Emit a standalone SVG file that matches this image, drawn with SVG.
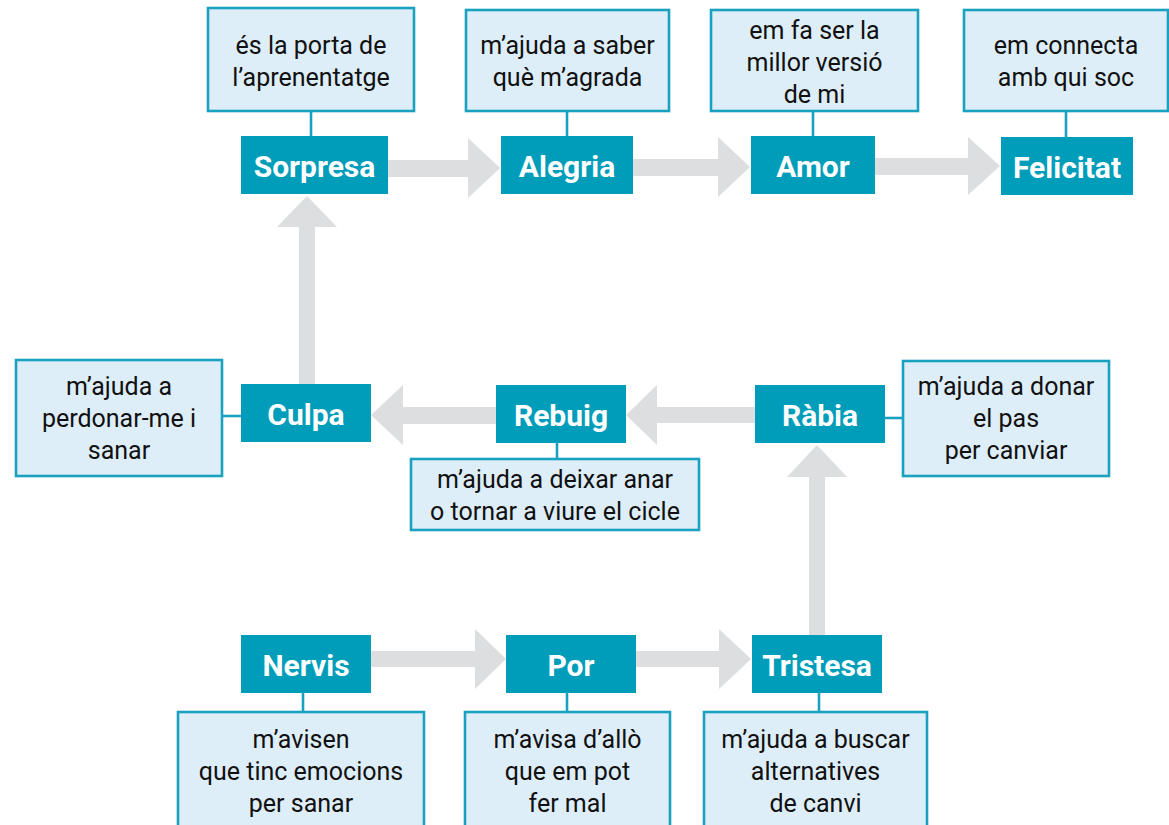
<svg xmlns="http://www.w3.org/2000/svg" width="1169" height="825" viewBox="0 0 1169 825">
<style>
.node rect{fill:#009dba}
.node text{font-family:Roboto,"Liberation Sans",sans-serif;font-weight:bold;font-size:30px;fill:#ffffff;text-anchor:middle}
.desc rect{fill:#deeef9;stroke:#18a2c0;stroke-width:2.6}
.desc text{font-family:Roboto,"Liberation Sans",sans-serif;font-size:25px;fill:#111111;text-anchor:middle}
.link{stroke:#18a2c0;stroke-width:2.6;fill:none}
.arrow{fill:#dcdee0}
</style>
<rect width="1169" height="825" fill="#ffffff"/>
<g id="connectors">
  <polygon class="arrow" points="388,160 468,160 468,138 500,168 468,198 468,177 388,177"/>
  <polygon class="arrow" points="633,159 718,159 718,137 750,167 718,197 718,176 633,176"/>
  <polygon class="arrow" points="875,158 968,158 968,137 1000,166 968,195 968,175 875,175"/>
  <polygon class="arrow" points="299,384 299,227 277,227 307,196 337,227 315,227 315,384"/>
  <polygon class="arrow" points="496,407 403,407 403,385 371,415 403,445 403,424 496,424"/>
  <polygon class="arrow" points="755,407 657,407 657,385 626,415 657,445 657,423 755,423"/>
  <polygon class="arrow" points="809,635 809,477 787,477 817,445 847,477 825,477 825,635"/>
  <polygon class="arrow" points="371,651 475,651 475,629 506,659 475,689 475,667 371,667"/>
  <polygon class="arrow" points="636,651 719,651 719,629 751,659 719,689 719,667 636,667"/>
  <line class="link" x1="311" y1="111" x2="311" y2="136"/>
  <line class="link" x1="567" y1="111" x2="567" y2="136"/>
  <line class="link" x1="813" y1="111" x2="813" y2="136"/>
  <line class="link" x1="1066" y1="111" x2="1066" y2="137"/>
  <line class="link" x1="222" y1="416" x2="241" y2="416"/>
  <line class="link" x1="557" y1="443" x2="557" y2="459"/>
  <line class="link" x1="885" y1="418" x2="903" y2="418"/>
  <line class="link" x1="303" y1="693" x2="303" y2="712"/>
  <line class="link" x1="567" y1="693" x2="567" y2="712"/>
  <line class="link" x1="819" y1="693" x2="819" y2="712"/>
</g>
<g id="sorpresa-desc" class="desc"><rect x="208" y="8" width="206" height="103"/><text x="311" y="54">és la porta de</text><text x="311" y="86">l’aprenentatge</text></g>
<g id="alegria-desc" class="desc"><rect x="466" y="10" width="203" height="101"/><text x="567.5" y="54">m’ajuda a saber</text><text x="567.5" y="86">què m’agrada</text></g>
<g id="amor-desc" class="desc"><rect x="711" y="10" width="207" height="101"/><text x="814.5" y="39">em fa ser la</text><text x="814.5" y="71">millor versió</text><text x="814.5" y="103">de mi</text></g>
<g id="felicitat-desc" class="desc"><rect x="964" y="10" width="204" height="101"/><text x="1066" y="54">em connecta</text><text x="1066" y="86">amb qui soc</text></g>
<g id="sorpresa" class="node"><rect x="241" y="136" width="147" height="58"/><text x="314.5" y="177">Sorpresa</text></g>
<g id="alegria" class="node"><rect x="501" y="136" width="132" height="58"/><text x="567" y="177">Alegria</text></g>
<g id="amor" class="node"><rect x="751" y="136" width="124" height="58"/><text x="813" y="177">Amor</text></g>
<g id="felicitat" class="node"><rect x="1001" y="137" width="132" height="58"/><text x="1067" y="178">Felicitat</text></g>
<g id="culpa-desc" class="desc"><rect x="16" y="360" width="206" height="116"/><text x="119" y="395">m’ajuda a</text><text x="119" y="427">perdonar-me i</text><text x="119" y="459">sanar</text></g>
<g id="culpa" class="node"><rect x="241" y="384" width="130" height="58"/><text x="306" y="425">Culpa</text></g>
<g id="rebuig" class="node"><rect x="496" y="385" width="130" height="58"/><text x="561" y="426">Rebuig</text></g>
<g id="rebuig-desc" class="desc"><rect x="411" y="459" width="288" height="71"/><text x="555" y="488">m’ajuda a deixar anar</text><text x="555" y="520">o tornar a viure el cicle</text></g>
<g id="rabia" class="node"><rect x="755" y="385" width="130" height="58"/><text x="820" y="426">Ràbia</text></g>
<g id="rabia-desc" class="desc"><rect x="903" y="361" width="206" height="115"/><text x="1006" y="395">m’ajuda a donar</text><text x="1006" y="427">el pas</text><text x="1006" y="459">per canviar</text></g>
<g id="nervis" class="node"><rect x="241" y="635" width="130" height="58"/><text x="306" y="676">Nervis</text></g>
<g id="por" class="node"><rect x="506" y="635" width="130" height="58"/><text x="571" y="676">Por</text></g>
<g id="tristesa" class="node"><rect x="752" y="635" width="130" height="58"/><text x="817" y="676">Tristesa</text></g>
<g id="nervis-desc" class="desc"><rect x="178" y="712" width="246" height="130"/><text x="301" y="748">m’avisen</text><text x="301" y="780">que tinc emocions</text><text x="301" y="812">per sanar</text></g>
<g id="por-desc" class="desc"><rect x="465" y="712" width="205" height="130"/><text x="567.5" y="748">m’avisa d’allò</text><text x="567.5" y="780">que em pot</text><text x="567.5" y="812">fer mal</text></g>
<g id="tristesa-desc" class="desc"><rect x="704" y="712" width="223" height="130"/><text x="815.5" y="748">m’ajuda a buscar</text><text x="815.5" y="780">alternatives</text><text x="815.5" y="812">de canvi</text></g>
</svg>
